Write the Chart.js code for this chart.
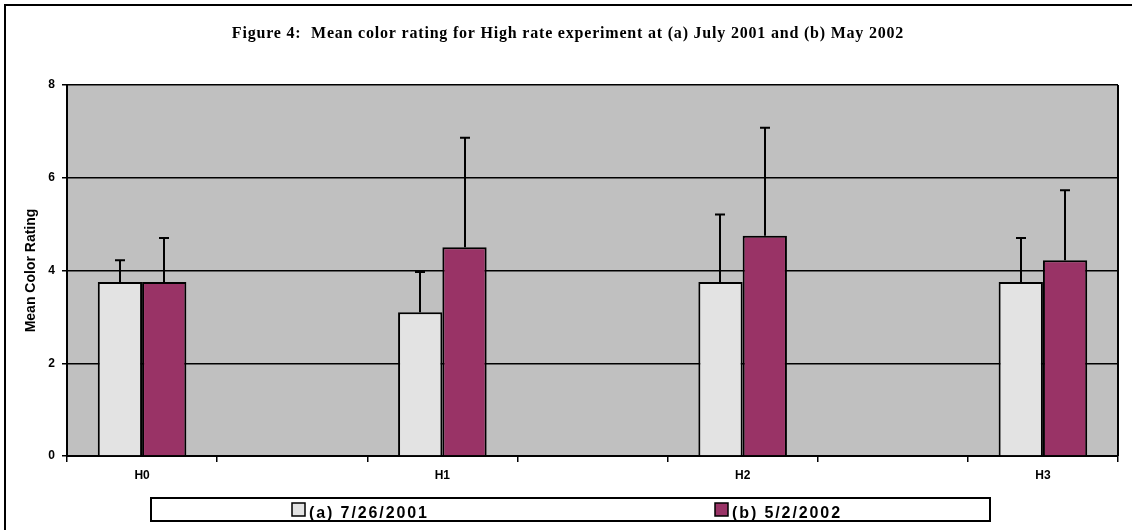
<!DOCTYPE html>
<html>
<head>
<meta charset="utf-8">
<script src="https://cdn.jsdelivr.net/npm/chart.js@4"></script>
<style>
html,body{margin:0;padding:0;background:#fff;}
#wrap{width:1132px;height:530px;position:relative;}
</style>
</head>
<body>
<div id="wrap"><canvas id="c" width="1132" height="530"></canvas></div>
<script>
const categories = ['H0', '', 'H1', '', 'H2', '', 'H3'];
const seriesA = [3.75, null, 3.10, null, 3.75, null, 3.75];
const seriesB = [3.75, null, 4.50, null, 4.75, null, 4.22];
const errorsA = [0.47, null, 0.87, null, 1.46, null, 0.95];
const errorsB = [0.95, null, 2.36, null, 2.33, null, 1.51];
const seriesLabels = ['(a) 7/26/2001', '(b) 5/2/2002'];
const yTicks = [0, 2, 4, 6, 8];
const titleText = 'Figure 4:  Mean color rating for High rate experiment at (a) July 2001 and (b) May 2002';
const yTitle = 'Mean Color Rating';

const colorA = '#E3E3E3';
const colorB = '#993366';

const decor = {
  id: 'decor',
  beforeDraw(chart) {
    const ctx = chart.ctx, a = chart.chartArea;
    ctx.save();
    ctx.fillStyle = '#fff';
    ctx.fillRect(0, 0, chart.width, chart.height);
    ctx.fillStyle = '#C0C0C0';
    ctx.fillRect(a.left, a.top, a.right - a.left, a.bottom - a.top);
    ctx.restore();
  },
  afterDatasetsDraw(chart) {
    const ctx = chart.ctx, ys = chart.scales.y;
    const errs = [errorsA, errorsB];
    ctx.save();
    ctx.strokeStyle = '#000';
    ctx.lineWidth = 2;
    chart.data.datasets.forEach((ds, di) => {
      const meta = chart.getDatasetMeta(di);
      meta.data.forEach((el, i) => {
        const v = ds.data[i], e = errs[di][i];
        if (v == null || e == null) return;
        const x = Math.round(el.x);
        const yTop = ys.getPixelForValue(v + e);
        const yBar = ys.getPixelForValue(v);
        ctx.beginPath();
        ctx.moveTo(x, yBar);
        ctx.lineTo(x, yTop);
        ctx.moveTo(x - 5, yTop);
        ctx.lineTo(x + 5, yTop);
        ctx.stroke();
      });
    });
    ctx.restore();
  },
  afterDraw(chart) {
    const ctx = chart.ctx, a = chart.chartArea;
    ctx.save();
    ctx.strokeStyle = '#000';
    ctx.lineWidth = 2;
    ctx.beginPath();
    ctx.moveTo(a.right, a.top);
    ctx.lineTo(a.right, a.bottom);
    ctx.stroke();
    ctx.lineWidth = 2;
    ctx.strokeRect(5, 5, 1200, 600);
    // title
    ctx.fillStyle = '#000';
    ctx.font = 'bold 16px "Liberation Serif", "Times New Roman", serif';
    ctx.textAlign = 'center';
    ctx.textBaseline = 'alphabetic';
    try { ctx.letterSpacing = '0.8px'; } catch (e) {}
    ctx.fillText(titleText, 568, 38);
    try { ctx.letterSpacing = '0px'; } catch (e) {}
    // y title
    ctx.save();
    ctx.translate(35, (a.top + a.bottom) / 2);
    ctx.rotate(-Math.PI / 2);
    ctx.font = 'bold 14px "Liberation Sans", Arial, sans-serif';
    ctx.textAlign = 'center';
    ctx.fillText(yTitle, 0, 0);
    ctx.restore();
    // legend
    ctx.lineWidth = 2;
    ctx.strokeRect(151, 498, 839, 23);
    const items = [
      {x: 292, color: colorA, label: chart.data.datasets[0].label},
      {x: 715, color: colorB, label: chart.data.datasets[1].label}
    ];
    ctx.font = 'bold 16px "Liberation Sans", Arial, sans-serif';
    ctx.textAlign = 'left';
    try { ctx.letterSpacing = '1.9px'; } catch (e) {}
    items.forEach(it => {
      ctx.fillStyle = it.color;
      ctx.fillRect(it.x, 503, 13, 13);
      ctx.lineWidth = 1.5;
      ctx.strokeRect(it.x, 503, 13, 13);
      ctx.fillStyle = '#000';
      ctx.fillText(it.label, it.x + 17, 518);
    });
    ctx.restore();
  }
};

new Chart(document.getElementById('c'), {
  type: 'bar',
  data: {
    labels: categories,
    datasets: [
      {label: seriesLabels[0], data: seriesA, backgroundColor: colorA, borderColor: '#000', borderWidth: 2, categoryPercentage: 0.59, barPercentage: 1.0},
      {label: seriesLabels[1], data: seriesB, backgroundColor: colorB, borderColor: '#000', borderWidth: 2, categoryPercentage: 0.59, barPercentage: 1.0}
    ]
  },
  options: {
    responsive: false,
    animation: false,
    devicePixelRatio: 1,
    layout: {padding: {top: 85, left: 0, right: 14, bottom: 44}},
    plugins: {legend: {display: false}, title: {display: false}, tooltip: {enabled: false}},
    scales: {
      x: {
        type: 'category',
        offset: true,
        grid: {display: true, offset: true, drawOnChartArea: false, color: '#000', lineWidth: 1.5, tickLength: 6},
        border: {display: true, color: '#000', width: 2},
        ticks: {color: '#000', font: {family: '"Liberation Sans", Arial, sans-serif', size: 12, weight: 'bold'}, padding: 6, maxRotation: 0, autoSkip: false},
        afterFit(s) { s.height = 30; }
      },
      y: {
        min: 0, max: 8,
        afterBuildTicks(s) { s.ticks = yTicks.map(v => ({value: v})); },
        grid: {color: '#000', lineWidth: 1.5, tickLength: 5, drawTicks: true},
        border: {display: true, color: '#000', width: 2},
        ticks: {color: '#000', font: {family: '"Liberation Sans", Arial, sans-serif', size: 12, weight: 'bold'}, padding: 7},
        afterFit(s) { s.width = 67; }
      }
    }
  },
  plugins: [decor]
});
</script>
</body>
</html>
